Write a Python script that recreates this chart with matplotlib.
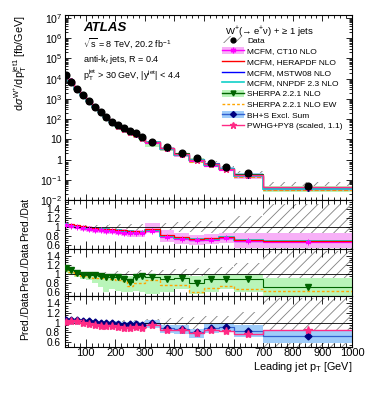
import numpy as np
import matplotlib.pyplot as plt
from matplotlib.ticker import MultipleLocator, FixedLocator, LogLocator, NullFormatter
from matplotlib.patches import Patch
from matplotlib.lines import Line2D
from matplotlib.transforms import Bbox, TransformedBbox

plt.rcParams['font.family'] = ['Liberation Sans', 'DejaVu Sans']
plt.rcParams['mathtext.fontset'] = 'custom'
plt.rcParams['mathtext.rm'] = 'Liberation Sans'
plt.rcParams['mathtext.it'] = 'Liberation Sans:italic'
plt.rcParams['mathtext.bf'] = 'Liberation Sans:bold'
plt.rcParams['hatch.linewidth'] = 0.6
plt.rcParams['hatch.color'] = '#808080'

# leading jet pT bins [GeV]
edges = np.array([30, 40, 60, 80, 100, 120, 140, 160, 180, 200, 220, 240, 260, 280,
                  300, 350, 400, 450, 500, 550, 600, 700, 1000])

# measured cross section [fb/GeV] and relative uncertainty
data = np.array([15000, 7000, 3000, 1500, 780, 410, 230, 130, 76, 51, 38, 27, 19.5, 13.6,
                 7.7, 4.3, 2.2, 1.26, 0.71, 0.43, 0.22, 0.052])
data_err = np.array([0.05, 0.04, 0.035, 0.035, 0.035, 0.04, 0.04, 0.045, 0.05, 0.05, 0.055,
                     0.06, 0.065, 0.07, 0.08, 0.09, 0.11, 0.12, 0.13, 0.14, 0.23, 0.5])

# prediction / data ratios
ct10 = np.array([1.04, 1.02, 0.99, 0.97, 0.95, 0.93, 0.92, 0.91, 0.90, 0.88, 0.87, 0.86, 0.86,
                 0.85, 0.90, 0.78, 0.73, 0.70, 0.71, 0.74, 0.67, 0.66])
ct10_lo = np.array([0.99, 0.97, 0.94, 0.91, 0.89, 0.87, 0.85, 0.84, 0.83, 0.81, 0.80, 0.78, 0.78,
                    0.76, 0.85, 0.66, 0.62, 0.60, 0.61, 0.64, 0.52, 0.52])
ct10_hi = np.array([1.09, 1.07, 1.04, 1.02, 1.01, 0.99, 0.98, 0.97, 0.96, 0.95, 0.94, 0.93, 0.93,
                    0.92, 1.08, 0.92, 0.86, 0.82, 0.83, 0.86, 0.86, 0.86])
herapdf = np.array([1.06, 1.05, 1.03, 1.01, 0.99, 0.98, 0.96, 0.95, 0.94, 0.93, 0.92, 0.91, 0.90,
                    0.89, 0.94, 0.81, 0.76, 0.73, 0.74, 0.77, 0.71, 0.69])
mstw = np.array([1.05, 1.04, 1.02, 1.00, 0.98, 0.96, 0.95, 0.93, 0.92, 0.91, 0.90, 0.89, 0.88,
                 0.87, 0.92, 0.79, 0.74, 0.71, 0.72, 0.75, 0.69, 0.67])
nnpdf = np.array([1.05, 1.04, 1.02, 1.00, 0.98, 0.97, 0.95, 0.94, 0.93, 0.92, 0.91, 0.90, 0.89,
                  0.88, 0.93, 0.80, 0.75, 0.72, 0.73, 0.76, 0.70, 0.67])

sherpa = np.array([1.12, 1.07, 1.01, 0.97, 0.96, 0.96, 0.95, 0.93, 0.93, 0.92, 0.88, 0.82, 0.93,
                   0.94, 0.93, 0.87, 0.91, 0.80, 0.88, 0.89, 0.89, 0.70])
sherpa_lo = np.array([1.02, 0.98, 0.92, 0.88, 0.85, 0.80, 0.70, 0.60, 0.65, 0.62, 0.60, 0.58, 0.62,
                      0.60, 0.55, 0.60, 0.65, 0.55, 0.60, 0.65, 0.60, 0.50])
sherpa_hi = np.array([1.20, 1.14, 1.06, 1.03, 1.02, 1.02, 1.00, 1.00, 1.00, 0.98, 0.98, 0.95, 1.00,
                      1.00, 1.00, 0.98, 1.00, 0.95, 1.00, 1.00, 1.00, 0.90])
sherpa_ew = np.array([1.08, 1.03, 0.97, 0.94, 0.92, 0.91, 0.90, 0.88, 0.87, 0.85, 0.83, 0.72, 0.79,
                      0.79, 0.85, 0.75, 0.75, 0.60, 0.67, 0.72, 0.65, 0.62])

bhs = np.array([1.05, 1.06, 1.05, 1.04, 1.03, 1.02, 1.00, 1.00, 0.99, 0.98, 0.96, 0.97, 0.98,
                0.96, 1.00, 0.90, 0.88, 0.80, 0.90, 0.92, 0.82, 0.72])
bhs_lo = np.array([1.00, 1.01, 1.00, 0.99, 0.98, 0.97, 0.95, 0.94, 0.93, 0.92, 0.90, 0.90, 0.91,
                   0.89, 0.90, 0.78, 0.77, 0.68, 0.78, 0.80, 0.70, 0.58])
bhs_hi = np.array([1.09, 1.10, 1.09, 1.08, 1.07, 1.06, 1.04, 1.04, 1.04, 1.03, 1.01, 1.02, 1.04,
                   1.02, 1.06, 0.96, 0.95, 0.88, 0.98, 1.00, 0.95, 0.84])
pwhg = np.array([1.02, 1.04, 1.03, 1.00, 0.98, 0.96, 0.94, 0.93, 0.93, 0.91, 0.90, 0.90, 0.92,
                 0.90, 0.95, 0.86, 0.86, 0.79, 0.86, 0.83, 0.76, 0.85])

# colours
c_hatch = '#808080'
c_ct10 = '#ff00ff'
c_ct10_band = '#f7b0f7'
c_hera = '#ff0000'
c_mstw = '#0000ff'
c_nnpdf = '#10d0c8'
c_sherpa = '#006400'
c_sherpa_band = '#b9f5b9'
c_ew = '#ffa500'
c_bhs = '#000080'
c_bhs_line = '#3060d0'
c_bhs_band = '#9fcdfa'
c_pwhg = '#ff2a85'

centers = 0.5 * (edges[:-1] + edges[1:])

W, H = 374, 396
fig = plt.figure(figsize=(W / 100, H / 100), dpi=100)


def box(top, bottom):
    return [65 / W, 1 - bottom / H, (352 - 65) / W, (bottom - top) / H]


ax = fig.add_axes(box(15, 200))
r1 = fig.add_axes(box(200, 249))
r2 = fig.add_axes(box(249, 296))
r3 = fig.add_axes(box(296, 347))


def hatch_band(a, lo, hi):
    a.stairs(hi, edges, baseline=lo, fill=True, facecolor='none', edgecolor=c_hatch,
             hatch='///', linewidth=0, zorder=1)


def band(a, lo, hi, col, z=2):
    a.stairs(hi, edges, baseline=lo, fill=True, color=col, linewidth=0, zorder=z)


def line(a, vals, col, lw=1.0, ls='-', z=3):
    a.stairs(vals, edges, baseline=None, color=col, linewidth=lw, linestyle=ls, zorder=z)


# ---------------- main panel ----------------
hatch_band(ax, data * (1 - data_err), data * (1 + data_err))
band(ax, data * ct10_lo, data * ct10_hi, c_ct10_band)
band(ax, data * sherpa_lo, data * sherpa_hi, c_sherpa_band)
band(ax, data * bhs_lo, data * bhs_hi, c_bhs_band)
line(ax, data * sherpa, c_sherpa, 0.8)
line(ax, data * sherpa_ew, c_ew, 0.8, '--')
line(ax, data * bhs, c_bhs_line, 0.8)
line(ax, data * mstw, c_mstw, 0.8)
line(ax, data * herapdf, c_hera, 0.8)
line(ax, data * ct10, c_ct10, 0.8)
line(ax, data * nnpdf, c_nnpdf, 1.2)
line(ax, data * pwhg, c_pwhg, 1.0)
ax.plot(centers, data * bhs, ls='none', marker='D', ms=3, color=c_bhs, zorder=5)
ax.plot(centers, data * pwhg, ls='none', marker='*', ms=5, color=c_pwhg, zorder=6)
ax.plot(centers, data, ls='none', marker='o', ms=4.8, color='black', zorder=7)

ax.set_yscale('log')
ax.set_xlim(30, 1000)
ax.set_ylim(1e-2, 1.4e7)
ax.yaxis.set_major_locator(FixedLocator([1e-2, 1e-1, 1, 10, 1e2, 1e3, 1e4, 1e5, 1e6, 1e7]))
ax.set_yticklabels(['$10^{-2}$', '$10^{-1}$', '1', '10', '$10^{2}$', '$10^{3}$', '$10^{4}$',
                    '$10^{5}$', '$10^{6}$', '$10^{7}$'])
ax.yaxis.set_minor_locator(LogLocator(base=10, subs=np.arange(2, 10), numticks=20))
ax.yaxis.set_minor_formatter(NullFormatter())
ax.tick_params(axis='x', labelbottom=False)

# ---------------- ratio panels ----------------
for r in (r1, r2, r3):
    hatch_band(r, 1 - data_err, 1 + data_err)

band(r1, ct10_lo, ct10_hi, c_ct10_band)
line(r1, mstw, c_mstw, 0.9)
line(r1, ct10, c_ct10, 0.9)
line(r1, nnpdf, c_nnpdf, 1.3)
line(r1, herapdf, c_hera, 0.9)
r1.plot(centers, ct10, ls='none', marker=(6, 2, 0), ms=4, mew=0.7, color=c_ct10, zorder=6)

band(r2, sherpa_lo, sherpa_hi, c_sherpa_band)
line(r2, sherpa, c_sherpa, 0.8)
line(r2, sherpa_ew, c_ew, 1.0, (0, (2, 1.5)))
r2.plot(centers, sherpa, ls='none', marker='v', ms=4, color=c_sherpa, zorder=6)

band(r3, bhs_lo, bhs_hi, c_bhs_band)
line(r3, bhs, c_bhs_line, 0.9)
line(r3, pwhg, c_pwhg, 1.0)
r3.plot(centers, bhs, ls='none', marker='D', ms=3.5, color=c_bhs, zorder=6)
r3.plot(centers, pwhg, ls='none', marker='*', ms=6, color=c_pwhg, zorder=7)

for r in (r1, r2, r3):
    r.axhline(1, color='black', lw=0.6, zorder=4)
    r.set_xlim(30, 1000)
    r.set_ylim(0.5, 1.6 if r is r1 else 1.55)
    r.yaxis.set_major_locator(FixedLocator([0.6, 0.8, 1.0, 1.2, 1.4]))
    r.set_yticklabels(['0.6', '0.8', '1', '1.2', '1.4'])
    r.yaxis.set_minor_locator(MultipleLocator(0.05))
    r.tick_params(axis='y', labelsize=7.3)
    if r is not r3:
        r.tick_params(axis='x', labelbottom=False)

for a in (ax, r1, r2, r3):
    a.xaxis.set_major_locator(MultipleLocator(100))
    a.xaxis.set_minor_locator(MultipleLocator(20))
    a.tick_params(which='both', direction='in', top=True, right=True, width=0.6)
    a.tick_params(which='major', length=4)
    a.tick_params(which='minor', length=2)
    for s in a.spines.values():
        s.set_linewidth(0.8)

for r in (r1, r2, r3):
    r.tick_params(axis='x', which='major', length=6)
    r.tick_params(axis='x', which='minor', length=3)

ax.tick_params(axis='y', labelsize=7.6, pad=2)
r3.tick_params(axis='x', labelsize=8, pad=1)

# ---------------- labels ----------------
fig.text(352 / W, 1 - 367 / H, r'Leading jet p$_{\mathregular{T}}$ [GeV]', ha='right',
         va='center', fontsize=7.8)
fig.text(20 / W, 1 - 63 / H,
         r'd$\sigma^{\mathregular{W^{+}}}$/dp$_{\mathregular{T}}^{\mathregular{jet1}}$ [fb/GeV]',
         rotation=90, ha='center', va='center', fontsize=7.8)
for yc in (217, 267, 316):
    t = fig.text(25 / W, 1 - yc / H, 'Pred./Data', rotation=90, ha='center', va='center',
                 fontsize=7.4)
    t.set_clip_box(TransformedBbox(Bbox([[0, 0], [1, 1 - 200 / H]]), fig.transFigure))
    t.set_clip_on(True)

fig.text(83 / W, 1 - 28 / H, 'ATLAS', fontsize=9.5, fontweight='bold', style='italic',
         va='center')
fig.text(83 / W, 1 - 43 / H, r'$\sqrt{\mathregular{s}}$ = 8 TeV, 20.2 fb$^{-1}$', fontsize=6.5,
         va='center')
fig.text(83 / W, 1 - 60 / H, r'anti-k$_{t}$ jets, R = 0.4', fontsize=6.5, va='center')
fig.text(83 / W, 1 - 75 / H,
         r'p$_{\mathregular{T}}^{\mathregular{jet}}$ > 30 GeV, |y$^{\mathregular{jet}}$| < 4.4',
         fontsize=6.5, va='center')
fig.text(225 / W, 1 - 31.5 / H, r'W$^{+}$(→ e$^{+}$ν) + ≥ 1 jets', fontsize=6.8, va='center')

# ---------------- legend ----------------
handles = [
    (Patch(facecolor='none', edgecolor=c_hatch, hatch='///', linewidth=0),
     Line2D([], [], color='black', marker='o', ms=3.5, ls='none')),
    (Patch(facecolor=c_ct10_band, linewidth=0),
     Line2D([], [], color=c_ct10, marker=(6, 2, 0), ms=4, lw=1)),
    Line2D([], [], color=c_hera, lw=1),
    Line2D([], [], color=c_mstw, lw=1),
    Line2D([], [], color=c_nnpdf, lw=1.2),
    (Patch(facecolor=c_sherpa_band, linewidth=0),
     Line2D([], [], color=c_sherpa, marker='v', ms=3.5, lw=1)),
    Line2D([], [], color=c_ew, lw=1, ls=(0, (2, 1.5))),
    (Patch(facecolor=c_bhs_band, linewidth=0),
     Line2D([], [], color=c_bhs_line, marker='D', ms=3, mfc=c_bhs, mec=c_bhs, lw=1)),
    Line2D([], [], color=c_pwhg, marker='*', ms=5, lw=1),
]
labels = ['Data', 'MCFM, CT10 NLO', 'MCFM, HERAPDF NLO', 'MCFM, MSTW08 NLO', 'MCFM, NNPDF 2.3 NLO',
          'SHERPA 2.2.1 NLO', 'SHERPA 2.2.1 NLO EW', 'BH+S Excl. Sum', 'PWHG+PY8 (scaled, 1.1)']
fig.legend(handles, labels, loc='upper left', bbox_to_anchor=(222 / W, 1 - 36.5 / H),
           bbox_transform=fig.transFigure, frameon=False, fontsize=6, handlelength=2.6,
           handletextpad=0.4, labelspacing=0.28, borderpad=0, borderaxespad=0, handleheight=0.9)

fig.savefig('out.png', dpi=100)
